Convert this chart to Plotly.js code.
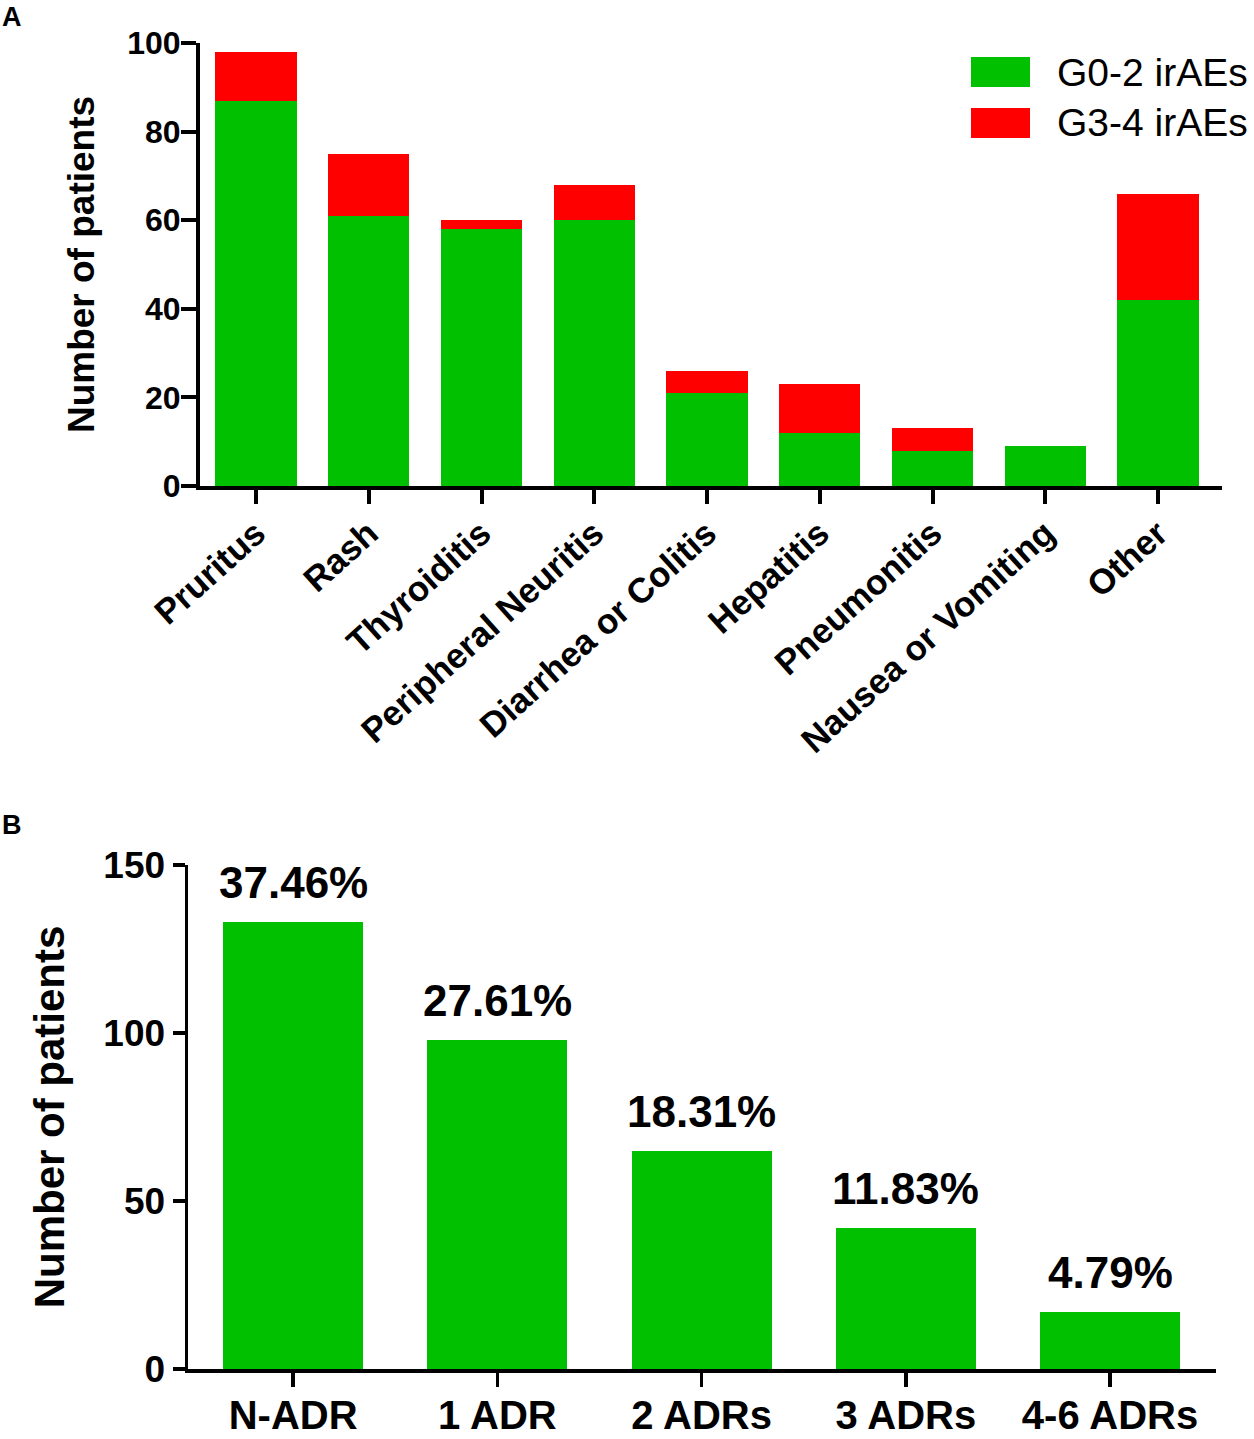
<!DOCTYPE html>
<html>
<head>
<meta charset="utf-8">
<script src="https://cdn.plot.ly/plotly-3.0.1.min.js"></script>
<style>html,body{margin:0;padding:0;background:#fff;}#chart{width:1254px;height:1439px;}</style>
</head>
<body>
<div id="chart"></div>
<script>
// Panel A data
const categoriesA = ['Pruritus','Rash','Thyroiditis','Peripheral Neuritis','Diarrhea or Colitis','Hepatitis','Pneumonitis','Nausea or Vomiting','Other'];
const g02 = [87, 61, 58, 60, 21, 12, 8, 9, 42];
const g34 = [11, 14, 2, 8, 5, 11, 5, 0, 24];
const seriesNames = ['G0-2 irAEs', 'G3-4 irAEs'];
const yTicksA = [0, 20, 40, 60, 80, 100];

// Panel B data
const categoriesB = ['N-ADR','1 ADR','2 ADRs','3 ADRs','4-6 ADRs'];
const patientsB = [133, 98, 65, 42, 17];
const pctLabels = ['37.46%','27.61%','18.31%','11.83%','4.79%'];
const yTicksB = [0, 50, 100, 150];

const GREEN = '#00C000', RED = '#FF0000';
const FONT = 'Liberation Sans, Arial, Helvetica, sans-serif';
const W = 1254, H = 1439;
const px = v => v / W, py = v => 1 - v / H;

const traces = [
  {type:'bar', x: categoriesA, y: g02, name: seriesNames[0], marker:{color:GREEN}, xaxis:'x', yaxis:'y', showlegend:false},
  {type:'bar', x: categoriesA, y: g34, name: seriesNames[1], marker:{color:RED}, xaxis:'x', yaxis:'y', showlegend:false},
  {type:'bar', x: categoriesB, y: patientsB, name: 'Patients', marker:{color:GREEN}, xaxis:'x2', yaxis:'y2', showlegend:false, width:0.686}
];

const annotations = [
  {text:'<b>A</b>', xref:'paper', yref:'paper', x:0, y:py(0), xanchor:'left', yanchor:'top', showarrow:false, font:{family:FONT, size:27, color:'#000'}},
  {text:'<b>B</b>', xref:'paper', yref:'paper', x:0, y:py(808), xanchor:'left', yanchor:'top', showarrow:false, font:{family:FONT, size:27, color:'#000'}},
  {text: seriesNames[0], xref:'paper', yref:'paper', x:px(1055), y:py(72), xanchor:'left', yanchor:'middle', showarrow:false, font:{family:FONT, size:39, color:'#000'}},
  {text: seriesNames[1], xref:'paper', yref:'paper', x:px(1055), y:py(123), xanchor:'left', yanchor:'middle', showarrow:false, font:{family:FONT, size:39, color:'#000'}}
];
categoriesB.forEach((c, i) => {
  annotations.push({text:'<b>' + pctLabels[i] + '</b>', x:c, y:patientsB[i], xref:'x2', yref:'y2', xanchor:'center', yanchor:'bottom', yshift:13, showarrow:false, font:{family:FONT, size:44, color:'#000'}});
});

const shapes = [
  {type:'rect', xref:'paper', yref:'paper', x0:px(971), x1:px(1030), y0:py(87), y1:py(57), fillcolor:GREEN, line:{width:0}},
  {type:'rect', xref:'paper', yref:'paper', x0:px(971), x1:px(1030), y0:py(138), y1:py(108), fillcolor:RED, line:{width:0}}
];

const layout = {
  width: W, height: H,
  margin: {l:0, r:0, t:0, b:0},
  paper_bgcolor:'#fff', plot_bgcolor:'#fff',
  barmode:'stack',
  bargap: 0.28,
  showlegend:false,
  font:{family:FONT, color:'#000'},
  xaxis: {
    domain:[px(200), px(1222)], anchor:'y',
    type:'category', range:[-0.497, 8.567],
    showline:true, linecolor:'#000', linewidth:4,
    ticks:'outside', ticklen:14, tickwidth:4, tickcolor:'#000',
    tickangle:-42, tickfont:{family:FONT, size:35, color:'#000', weight:'bold'},
    ticklabelstandoff:-5,
    showgrid:false, zeroline:false, fixedrange:true
  },
  yaxis: {
    domain:[py(486), py(43)], anchor:'x',
    range:[0, 100], tickvals:yTicksA, ticktext:yTicksA.map(String),
    showline:true, linecolor:'#000', linewidth:4,
    ticks:'outside', ticklen:15, tickwidth:4, tickcolor:'#000',
    tickfont:{family:FONT, size:32, color:'#000', weight:'bold'},
    ticklabelstandoff:-6,
    title:{text:'<b>Number of patients</b>', font:{family:FONT, size:37, color:'#000'}, standoff:22},
    showgrid:false, zeroline:false, fixedrange:true
  },
  xaxis2: {
    domain:[px(188), px(1216)], anchor:'y2',
    type:'category', range:[-0.515, 4.519],
    showline:true, linecolor:'#000', linewidth:3.5,
    ticks:'outside', ticklen:14, tickwidth:3.5, tickcolor:'#000',
    tickfont:{family:FONT, size:40, color:'#000', weight:'bold'},
    ticklabelstandoff:-6,
    showgrid:false, zeroline:false, fixedrange:true
  },
  yaxis2: {
    domain:[py(1369), py(865)], anchor:'x2',
    range:[0, 150], tickvals:yTicksB, ticktext:yTicksB.map(String),
    showline:true, linecolor:'#000', linewidth:3.5,
    ticks:'outside', ticklen:12, tickwidth:3.5, tickcolor:'#000',
    tickfont:{family:FONT, size:37, color:'#000', weight:'bold'},
    ticklabelstandoff:0,
    title:{text:'<b>Number of patients</b>', font:{family:FONT, size:42, color:'#000'}, standoff:26},
    showgrid:false, zeroline:false, fixedrange:true
  },
  annotations: annotations,
  shapes: shapes
};

Plotly.newPlot('chart', traces, layout, {displayModeBar:false, staticPlot:true});
</script>
</body>
</html>
